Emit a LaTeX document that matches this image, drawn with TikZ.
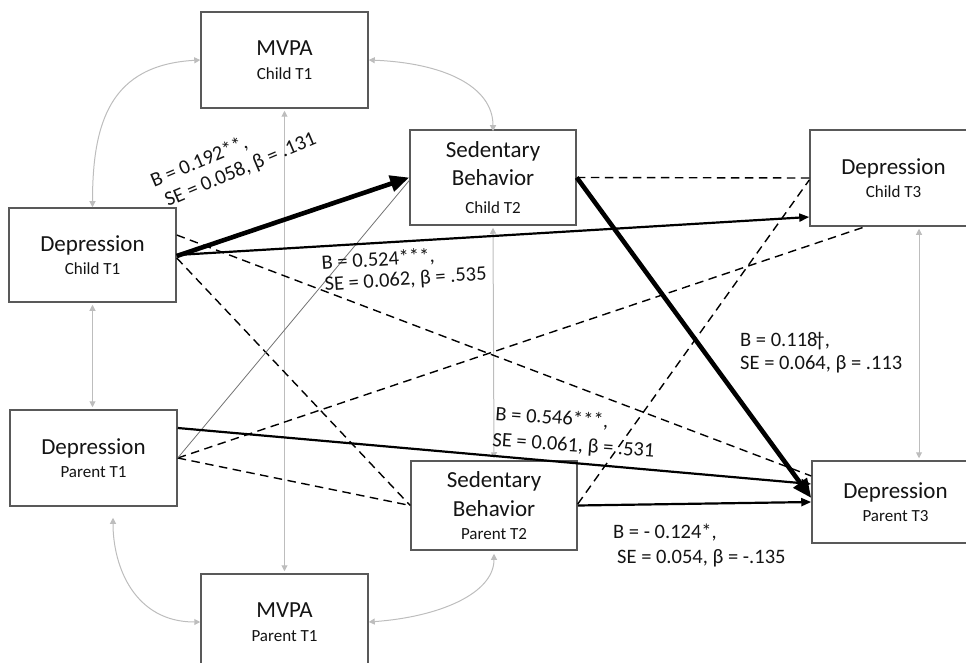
\documentclass[tikz,border=0pt]{standalone}
\usepackage{fontspec}
\setmainfont{Carlito}
\usetikzlibrary{arrows.meta}

\definecolor{boxline}{HTML}{595959}
\definecolor{corrgray}{HTML}{BDBDBD}
\definecolor{inkgray}{HTML}{141414}

\newcommand{\sublbl}[1]{{\fontsize{17}{18}\selectfont #1}}

\tikzset{
  box/.style={draw=boxline, fill=white, line width=1.5pt, inner sep=0pt,
    align=center, text=inkgray, font=\fontsize{23}{23.5}\selectfont},
  lbl/.style={inner sep=0pt, text=inkgray, font=\fontsize{20.5}{22}\selectfont},
  strongpath/.style={line width=4.6pt, -{Triangle[length=19pt,width=16pt]}},
  sigpath/.style={line width=2.2pt, -{Triangle[length=10pt,width=8pt]}},
  weakpath/.style={draw=black!55, line width=0.8pt},
  nspath/.style={line width=1.4pt, dash pattern=on 8.5pt off 5.5pt},
  corrpath/.style={draw=corrgray, line width=1pt,
    {Triangle[length=6pt,width=6pt]}-{Triangle[length=6pt,width=6pt]}}
}

\begin{document}
\begin{tikzpicture}[x=1pt,y=-1pt]
\useasboundingbox (0,0) rectangle (966,663);
\clip (0,0) rectangle (966,663);

% variables
\node[box, minimum width=167pt, minimum height=96pt] (mvpaC) at (284.5,60)
  {MVPA\\\sublbl{Child T1}};
\node[box, minimum width=167pt, minimum height=94pt] (depC1) at (92.5,255)
  {Depression\\\sublbl{Child T1}};
\node[box, minimum width=166pt, minimum height=95pt] (sedC2) at (493,177.5)
  {Sedentary\\[4.5pt]Behavior\\[4.5pt]\sublbl{Child T2}};
\node[box, minimum width=167pt, minimum height=96pt] (depC3) at (893.5,178)
  {Depression\\\sublbl{Child T3}};
\node[box, minimum width=167pt, minimum height=96pt] (depP1) at (93.5,458)
  {Depression\\\sublbl{Parent T1}};
\node[box, minimum width=166pt, minimum height=89pt] (sedP2) at (494,505.5)
  {Sedentary\\[5.5pt]Behavior\\[-1pt]\sublbl{Parent T2}};
\node[box, minimum width=167pt, minimum height=82pt] (depP3) at (895.5,502)
  {Depression\\\sublbl{Parent T3}};
\node[box, minimum width=167pt, minimum height=96pt] (mvpaP) at (284.5,622)
  {MVPA\\\sublbl{Parent T1}};

% correlations
\draw[corrpath] (mvpaC.west) .. controls +(-90,5) and +(0,-85) .. (depC1.north);
\draw[corrpath] (mvpaC.east) .. controls +(75,3) and +(0,-45) .. ([yshift=-2pt]sedC2.north);
\draw[corrpath] ([yshift=-2pt]depC1.south) -- ([xshift=-1pt,yshift=2pt]depP1.north);
\draw[corrpath] ([xshift=19.5pt,yshift=-11pt]depP1.south) .. controls +(0,50) and +(-65,0) .. (mvpaP.west);
\draw[corrpath] (mvpaP.east) .. controls +(70,-5) and +(0,40) .. ([yshift=-3pt]sedP2.south);
\draw[corrpath] ([yshift=-2pt]mvpaC.south) -- ([yshift=2pt]mvpaP.north);
\draw[corrpath] ([yshift=-2pt]sedC2.south) -- ([yshift=2pt]sedP2.north);
\draw[corrpath] ([xshift=25.5pt,yshift=-2pt]depC3.south) -- ([xshift=23.5pt,yshift=2pt]depP3.north);

% non-significant paths
\draw[nspath] ([yshift=20pt]depC1.east) -- ([yshift=26pt]depP3.west);
\draw[nspath] ([yshift=-3pt]depC1.east) -- (sedP2.west);
\draw[nspath] (depP1.east) -- (sedP2.west);
\draw[nspath] (depP1.east) -- ([xshift=-28.5pt]depC3.south);
\draw[nspath] (sedC2.east) -- (depC3.west);
\draw[nspath] ([yshift=1.5pt]sedP2.east) -- ([yshift=-2pt]depC3.west);
\draw[weakpath] (depP1.east) -- ([yshift=-3pt]sedC2.west);

% significant paths
\draw[sigpath] (depC1.east) -- ([yshift=-39pt]depC3.west);
\draw[sigpath] ([yshift=30pt]depP1.east) -- ([yshift=18pt]depP3.west);
\draw[sigpath] (sedP2.east) -- (depP3.west);
\draw[strongpath] ([yshift=-1pt]depC1.east) -- (sedC2.west);
\draw[strongpath] (sedC2.east) -- ([yshift=4pt]depP3.west);

% estimates
\node[lbl, rotate=23, anchor=base west] (e1a) at (154,188) {B = 0.192**,};
\node[lbl, rotate=23, anchor=base west] (e1b) at (168,207) {SE = 0.058, β = .131};
\node[lbl, rotate=4, anchor=base west] (e2a) at (322,270) {B = 0.524***,};
\node[lbl, rotate=4, anchor=base west] (e2b) at (325,291) {SE = 0.062, β = .535};
\node[lbl, anchor=base west] (e3a) at (740,346) {B = 0.118\kern-3pt†,};
\node[lbl, anchor=base west] (e3b) at (740,369) {SE = 0.064, β = .113};
\node[lbl, rotate=-4, anchor=base west] (e4a) at (495,420) {B = 0.546***,};
\node[lbl, rotate=-4, anchor=base west] (e4b) at (492,446) {SE = 0.061, β = .531};
\node[lbl, anchor=base west] (e5a) at (613,538) {B = - 0.124*,};
\node[lbl, anchor=base west] (e5b) at (617,563) {SE = 0.054, β = -.135};
\end{tikzpicture}
\end{document}
